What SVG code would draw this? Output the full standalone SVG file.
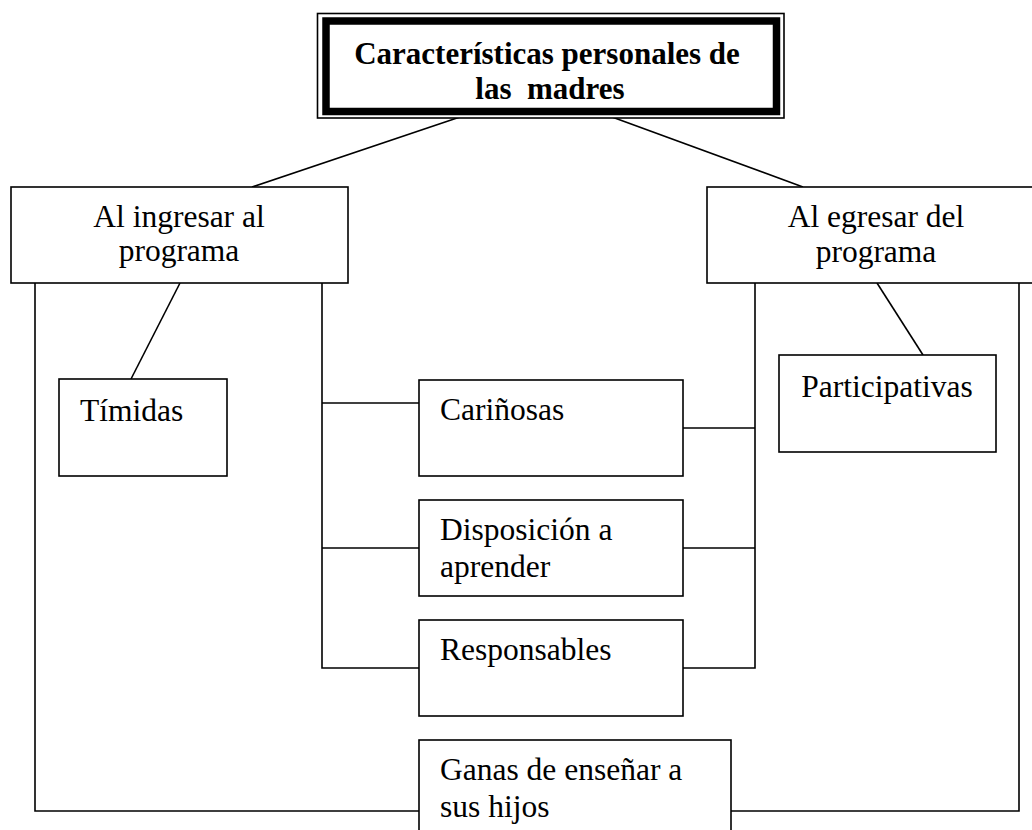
<svg xmlns="http://www.w3.org/2000/svg" width="1032" height="830" viewBox="0 0 1032 830">
<style>
.box{fill:#fff;stroke:#000;stroke-width:1.6}
.ln{fill:none;stroke:#000;stroke-width:1.6}
.t{font-family:"Liberation Serif","Times New Roman",serif;font-size:31.5px;fill:#000}
.tb{font-family:"Liberation Serif","Times New Roman",serif;font-size:31px;font-weight:bold;fill:#000;white-space:pre}
.c{text-anchor:middle}
</style>
<rect width="1032" height="830" fill="#fff"/>
<g id="connectors">
<line class="ln" x1="460" y1="117" x2="252" y2="187"/>
<line class="ln" x1="612" y1="117" x2="803" y2="187"/>
<line class="ln" x1="180" y1="283" x2="131" y2="379"/>
<line class="ln" x1="877" y1="283" x2="923" y2="355"/>
<polyline class="ln" points="35,283 35,811 419,811"/>
<polyline class="ln" points="1019,283 1019,811 731,811"/>
<polyline class="ln" points="322,283 322,668 419,668"/>
<line class="ln" x1="322" y1="403" x2="419" y2="403"/>
<line class="ln" x1="322" y1="548" x2="419" y2="548"/>
<polyline class="ln" points="755,283 755,668 683,668"/>
<line class="ln" x1="683" y1="428" x2="755" y2="428"/>
<line class="ln" x1="683" y1="548" x2="755" y2="548"/>
</g>
<g id="title">
<rect x="317.5" y="13.5" width="466.5" height="104.5" fill="#fff" stroke="#000" stroke-width="1.6"/>
<rect x="326" y="21" width="450.5" height="90.5" fill="#fff" stroke="#000" stroke-width="7.5"/>
<text class="tb c" x="547" y="64">Características personales de</text>
<text class="tb c" x="550" y="99">las  madres</text>
</g>
<g id="ingresar">
<rect class="box" x="11" y="187" width="337" height="96"/>
<text class="t c" x="179" y="227">Al ingresar al</text>
<text class="t c" x="179" y="261">programa</text>
</g>
<g id="egresar">
<rect class="box" x="707" y="187" width="330" height="96"/>
<text class="t c" x="876" y="227">Al egresar del</text>
<text class="t c" x="876" y="262">programa</text>
</g>
<g id="timidas">
<rect class="box" x="59" y="379" width="168" height="97"/>
<text class="t" x="80" y="421">Tímidas</text>
</g>
<g id="participativas">
<rect class="box" x="779" y="355" width="217" height="97"/>
<text class="t c" x="887" y="397">Participativas</text>
</g>
<g id="carinosas">
<rect class="box" x="419" y="380" width="264" height="96"/>
<text class="t" x="440" y="420">Cariñosas</text>
</g>
<g id="disposicion">
<rect class="box" x="419" y="500" width="264" height="96"/>
<text class="t" x="440" y="540">Disposición a</text>
<text class="t" x="440" y="577">aprender</text>
</g>
<g id="responsables">
<rect class="box" x="419" y="620" width="264" height="96"/>
<text class="t" x="440" y="660">Responsables</text>
</g>
<g id="ganas">
<rect class="box" x="419" y="740" width="312" height="100"/>
<text class="t" x="440" y="780">Ganas de enseñar a</text>
<text class="t" x="440" y="817">sus hijos</text>
</g>
</svg>
